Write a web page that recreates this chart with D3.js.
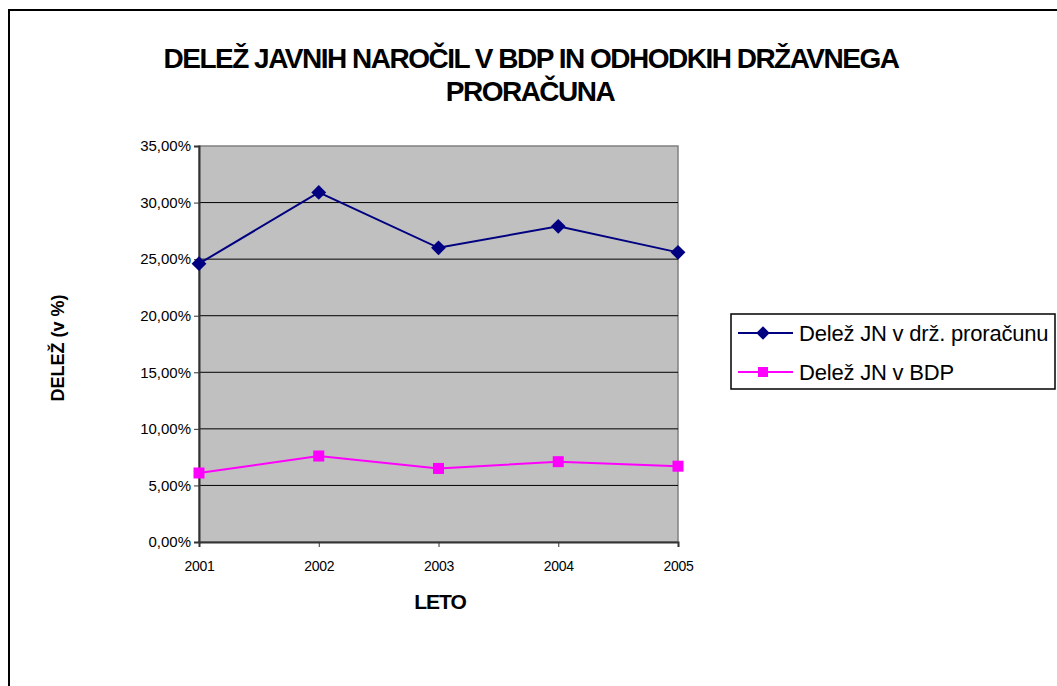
<!DOCTYPE html>
<html><head><meta charset="utf-8">
<script src="https://cdn.jsdelivr.net/npm/d3@7"></script>
<style>body{margin:0;background:#fff;}svg{display:block;font-family:"Liberation Sans",Arial,sans-serif;}</style>
</head><body>
<svg id="c" width="1057" height="686"></svg>
<script>
const years = ["2001","2002","2003","2004","2005"];
const budgetShare = [24.6, 30.9, 26.0, 27.9, 25.6];
const gdpShare = [6.1, 7.6, 6.5, 7.1, 6.7];
const yTicks = [0,5,10,15,20,25,30,35];
const seriesNames = ["Delež JN v drž. proračunu","Delež JN v BDP"];
const titleLines = ["DELEŽ JAVNIH NAROČIL V BDP IN ODHODKIH DRŽAVNEGA","PRORAČUNA"];

const svg = d3.select("#c");
svg.append("rect").attr("x",9).attr("y",10).attr("width",1100).attr("height",700)
  .attr("fill","none").attr("stroke","#000").attr("stroke-width",2);

const L=199, R=678, T=146, B=542;
const x = d3.scalePoint().domain(years).range([L,R]);
const y = d3.scaleLinear().domain([0,35]).range([B,T]);

svg.append("rect").attr("x",L).attr("y",T).attr("width",R-L).attr("height",B-T)
  .attr("fill","#c0c0c0").attr("stroke","#808080").attr("stroke-width",1.5);

svg.append("g").selectAll("line").data(yTicks.filter(d=>d>0&&d<35)).join("line")
  .attr("x1",L).attr("x2",R).attr("y1",d=>y(d)).attr("y2",d=>y(d))
  .attr("stroke","#000").attr("stroke-width",1);

const fmt = d => d.toFixed(2).replace(".",",")+"%";
const ya = svg.append("g").attr("transform",`translate(${L},0)`)
  .call(d3.axisLeft(y).tickValues(yTicks).tickFormat(fmt).tickSize(5).tickPadding(3));
ya.select(".domain").attr("stroke","#333").attr("stroke-width",2);
ya.selectAll(".tick line").attr("stroke","#333");
ya.selectAll("text").attr("font-size",15).attr("fill","#000").attr("font-family","Liberation Sans, Arial").attr("letter-spacing","0");

const xa = svg.append("g").attr("transform",`translate(0,${B})`)
  .call(d3.axisBottom(x).tickSize(5).tickPadding(14));
xa.select(".domain").attr("stroke","#333").attr("stroke-width",2);
xa.selectAll(".tick line").attr("stroke","#333");
xa.selectAll("text").attr("font-size",14).attr("fill","#000").attr("font-family","Liberation Sans, Arial").attr("letter-spacing","-0.3");

const line = d3.line().x((d,i)=>x(years[i])).y(d=>y(d));
svg.append("path").datum(budgetShare).attr("d",line).attr("fill","none").attr("stroke","#000080").attr("stroke-width",2);
svg.append("path").datum(gdpShare).attr("d",line).attr("fill","none").attr("stroke","#ff00ff").attr("stroke-width",2);

svg.append("g").selectAll("path").data(budgetShare).join("path")
  .attr("d", d3.symbol().type(d3.symbolSquare).size(110))
  .attr("transform",(d,i)=>`translate(${x(years[i])},${y(d)}) rotate(45)`)
  .attr("fill","#000080");
svg.append("g").selectAll("rect").data(gdpShare).join("rect")
  .attr("x",(d,i)=>x(years[i])-5.5).attr("y",d=>y(d)-5.5).attr("width",11).attr("height",11)
  .attr("fill","#ff00ff");

svg.append("g").selectAll("text").data(titleLines).join("text")
  .attr("x",(d,i)=>i===0?531:530).attr("y",(d,i)=>68+i*33).attr("text-anchor","middle")
  .attr("font-size",28).attr("font-weight","bold").attr("letter-spacing","-1.5").text(d=>d);

svg.append("text").attr("transform","translate(64,348) rotate(-90)").attr("text-anchor","middle")
  .attr("font-size",18).attr("font-weight","bold").attr("letter-spacing","0").text("DELEŽ (v %)");
svg.append("text").attr("x",440).attr("y",609).attr("text-anchor","middle")
  .attr("font-size",21).attr("font-weight","bold").attr("letter-spacing","-1").text("LETO");

const lg = svg.append("g");
lg.append("rect").attr("x",731).attr("y",314).attr("width",324).attr("height",75)
  .attr("fill","#fff").attr("stroke","#000").attr("stroke-width",1.5);
const colors = ["#000080","#ff00ff"];
seriesNames.forEach((n,i)=>{
  const yy = 333 + i*39;
  lg.append("line").attr("x1",738).attr("x2",793).attr("y1",yy).attr("y2",yy).attr("stroke",colors[i]).attr("stroke-width",2);
  if(i===0){
    lg.append("path").attr("d",d3.symbol().type(d3.symbolSquare).size(90)).attr("transform",`translate(763,${yy}) rotate(45)`).attr("fill",colors[i]);
  } else {
    lg.append("rect").attr("x",758).attr("y",yy-5).attr("width",10).attr("height",10).attr("fill",colors[i]);
  }
  lg.append("text").attr("x",799).attr("y",yy+8).attr("font-size",22).attr("letter-spacing","-0.2").text(n);
});
</script>
</body></html>
